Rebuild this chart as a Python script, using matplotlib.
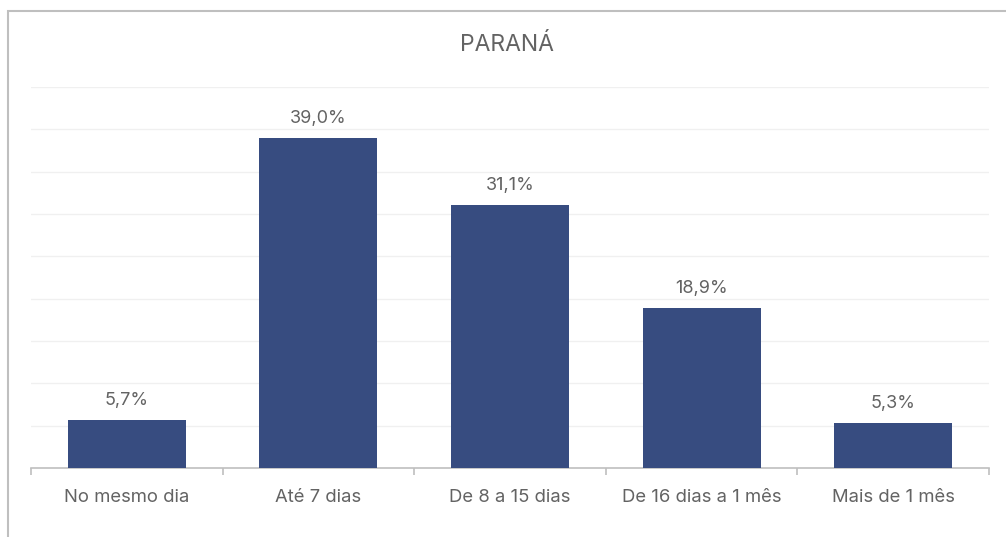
import matplotlib.pyplot as plt
from matplotlib.patches import Rectangle
from matplotlib.ticker import MultipleLocator

plt.rcParams['font.family'] = ['Inter', 'DejaVu Sans']

categories = ["No mesmo dia", "Até 7 dias", "De 8 a 15 dias", "De 16 dias a 1 mês", "Mais de 1 mês"]
values = [5.7, 39.0, 31.1, 18.9, 5.3]
title = "PARANÁ"

bar_color = "#374C80"
text_color = "#636363"

fig = plt.figure(figsize=(10.06, 5.37), dpi=100)
fig.patch.set_facecolor("white")

# outer chart frame (top and left edges visible)
fig.patches.append(Rectangle((8 / 1006, -0.1), 1.2, (537 - 11) / 537 + 0.1,
                             transform=fig.transFigure, fill=False,
                             edgecolor="#BFBFBF", linewidth=1.5))

ax = fig.add_axes([31 / 1006, 69 / 537, 958 / 1006, (450 - 69) / 537])
x = range(len(categories))
bars = ax.bar(x, values, width=0.616, color=bar_color, zorder=3)

ax.set_xlim(-0.5, len(categories) - 0.5)
ax.set_ylim(0, 45)
ax.yaxis.set_major_locator(MultipleLocator(5))
ax.grid(axis="y", color="#F0F0F0", linewidth=1, zorder=0)
ax.tick_params(axis="y", left=False, labelleft=False)

ax.set_xticks(list(x))
ax.set_xticklabels(categories, fontsize=13.3, color=text_color)
ax.tick_params(axis="x", which="major", length=0, pad=15)
ax.set_xticks([i - 0.5 for i in range(len(categories) + 1)], minor=True)
ax.tick_params(axis="x", which="minor", length=5, color="#BFBFBF", width=1.2)

for s in ["top", "right", "left"]:
    ax.spines[s].set_visible(False)
ax.spines["bottom"].set_color("#BFBFBF")
ax.spines["bottom"].set_linewidth(1.2)

for b, v in zip(bars, values):
    ax.annotate(f"{v:.1f}%".replace(".", ","), (b.get_x() + b.get_width() / 2, v),
                xytext=(0, 8), textcoords="offset points", ha="center", va="bottom",
                fontsize=13, color=text_color)

fig.text(0.5 + 8 / 2012, 1 - 45 / 537, title, ha="center", va="center",
         fontsize=16.5, color=text_color)

fig.savefig("out.png", dpi=100)
